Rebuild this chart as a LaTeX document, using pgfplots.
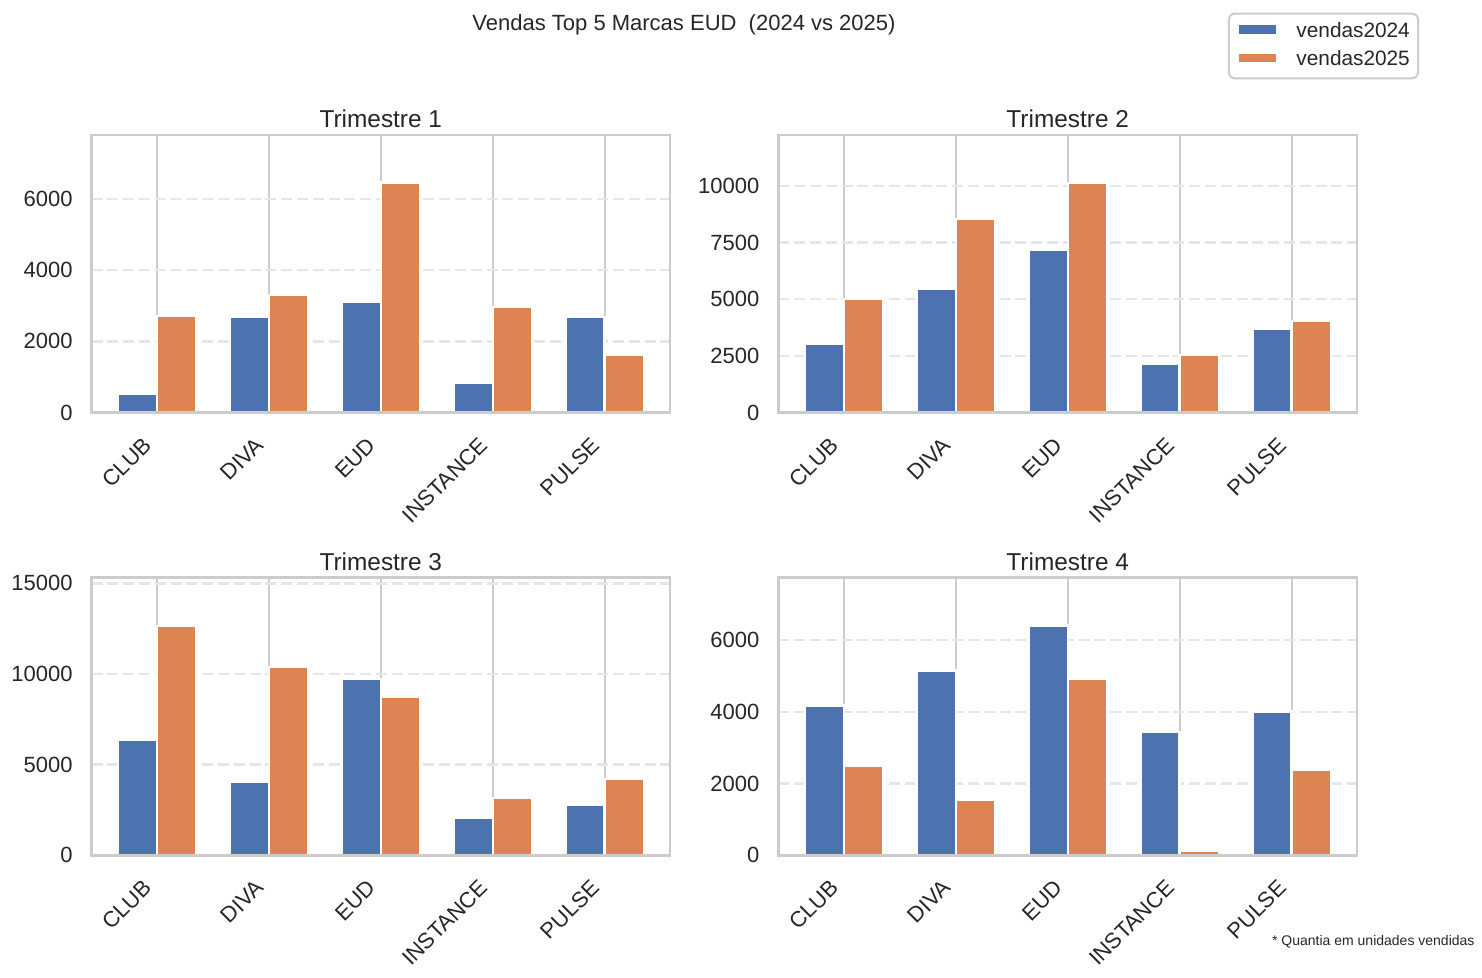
\documentclass[border=0pt]{standalone}
\usepackage{fontspec}
\setmainfont{Liberation Sans}
\usepackage{pgfplots}
\pgfplotsset{compat=1.18}
\definecolor{c24}{HTML}{4C72B0}
\definecolor{c25}{HTML}{DD8452}
\definecolor{txt}{HTML}{262626}
\definecolor{spine}{HTML}{CCCCCC}
\definecolor{hgrid}{HTML}{E6E6E6}
\pgfplotsset{
  q/.style={
    ybar, scale only axis, width=289.3pt, height=138.8pt,
    xmin=-0.585, xmax=4.585, ymin=0, enlarge x limits=false,
    bar width=0.35,
    axis line style={spine, line width=1.25pt},
    xtick={0,...,4}, xticklabels={CLUB,DIVA,EUD,INSTANCE,PULSE},
    major tick length=0pt,
    tick style={draw=none},
    xmajorgrids, ymajorgrids,
    x grid style={spine, line width=1pt},
    y grid style={hgrid, line width=1.2pt, dash pattern=on 5.5pt off 2.4pt},
    tick label style={font=\fontsize{11}{13}\selectfont, text=txt},
    xticklabel style={yshift=-18.7pt, rotate=45, anchor=south east, inner sep=0pt, text height=9.96pt, text depth=2.33pt},
    yticklabel style={xshift=-9.3pt, anchor=east, inner sep=0pt},
    scaled y ticks=false,
    /pgf/number format/1000 sep={},
    /pgf/number format/assume math mode=true,
    every axis title/.style={at={(0.5,1)}, anchor=base, yshift=3.8pt, inner sep=0pt, font=\fontsize{12.2}{14}\selectfont, text=txt},
    after end axis/.code={\draw[spine, line width=1.25pt] (rel axis cs:0,0) rectangle (rel axis cs:1,1);},
  },
  b24/.style={fill=c24, draw=white, line width=1.2pt, bar shift=-0.175},
  b25/.style={fill=c25, draw=white, line width=1.2pt, bar shift=0.175},
}
\begin{document}
\begin{tikzpicture}
\path[use as bounding box] (0,0) rectangle (741pt,489pt);

\begin{axis}[q, at={(45.75pt,282.65pt)}, anchor=south west, ymax=7790,
  ytick={0,2000,4000,6000}, title={Trimestre 1}]
\addplot[b24] coordinates {(0,524) (1,2685) (2,3106) (3,833) (4,2685)};
\addplot[b25] coordinates {(0,2713) (1,3302) (2,6455) (3,2965) (4,1618)};
\end{axis}

\begin{axis}[q, at={(389.2pt,282.65pt)}, anchor=south west, ymax=12230,
  ytick={0,2500,5000,7500,10000}, title={Trimestre 2},
  legend style={at={(1.1072,1.441)}, anchor=north east, draw=spine, line width=1pt,
    rounded corners=3pt, fill=white, font=\fontsize{10.4}{12}\selectfont, text=txt,
    inner xsep=4.1pt, inner ysep=2pt, row sep=0pt, column sep=9pt,
    cells={anchor=west},
    nodes={inner sep=0pt, text height=10pt, text depth=4.15pt}},
  legend cell align=left,
  legend image code/.code={\fill[#1, sharp corners] (0pt,-1.725pt) rectangle (19.5pt,3.775pt);}]
\addplot[b24] coordinates {(0,3025) (1,5448) (2,7166) (3,2144) (4,3686)};
\addlegendentry{vendas2024}
\addplot[b25] coordinates {(0,5007) (1,8532) (2,10132) (3,2540) (4,4038)};
\addlegendentry{vendas2025}
\end{axis}

\begin{axis}[q, at={(45.75pt,61.35pt)}, anchor=south west, ymax=15310,
  ytick={0,5000,10000,15000}, title={Trimestre 3}]
\addplot[b24] coordinates {(0,6360) (1,4044) (2,9724) (3,2059) (4,2776)};
\addplot[b25] coordinates {(0,12647) (1,10386) (2,8732) (3,3162) (4,4210)};
\end{axis}

\begin{axis}[q, at={(389.2pt,61.35pt)}, anchor=south west, ymax=7745,
  ytick={0,2000,4000,6000}, title={Trimestre 4}]
\addplot[b24] coordinates {(0,4175) (1,5154) (2,6412) (3,3448) (4,4007)};
\addplot[b25] coordinates {(0,2498) (1,1547) (2,4930) (3,121) (4,2386)};
\end{axis}

\node[anchor=base, inner sep=0pt, font=\fontsize{11}{13}\selectfont, text=txt] at (342pt,473.5pt) {Vendas Top 5 Marcas EUD~ (2024 vs 2025)};
\node[anchor=base west, inner sep=0pt, font=\fontsize{7}{8}\selectfont, text=txt] at (635.85pt,16pt) {* Quantia em unidades vendidas};
\end{tikzpicture}
\end{document}
